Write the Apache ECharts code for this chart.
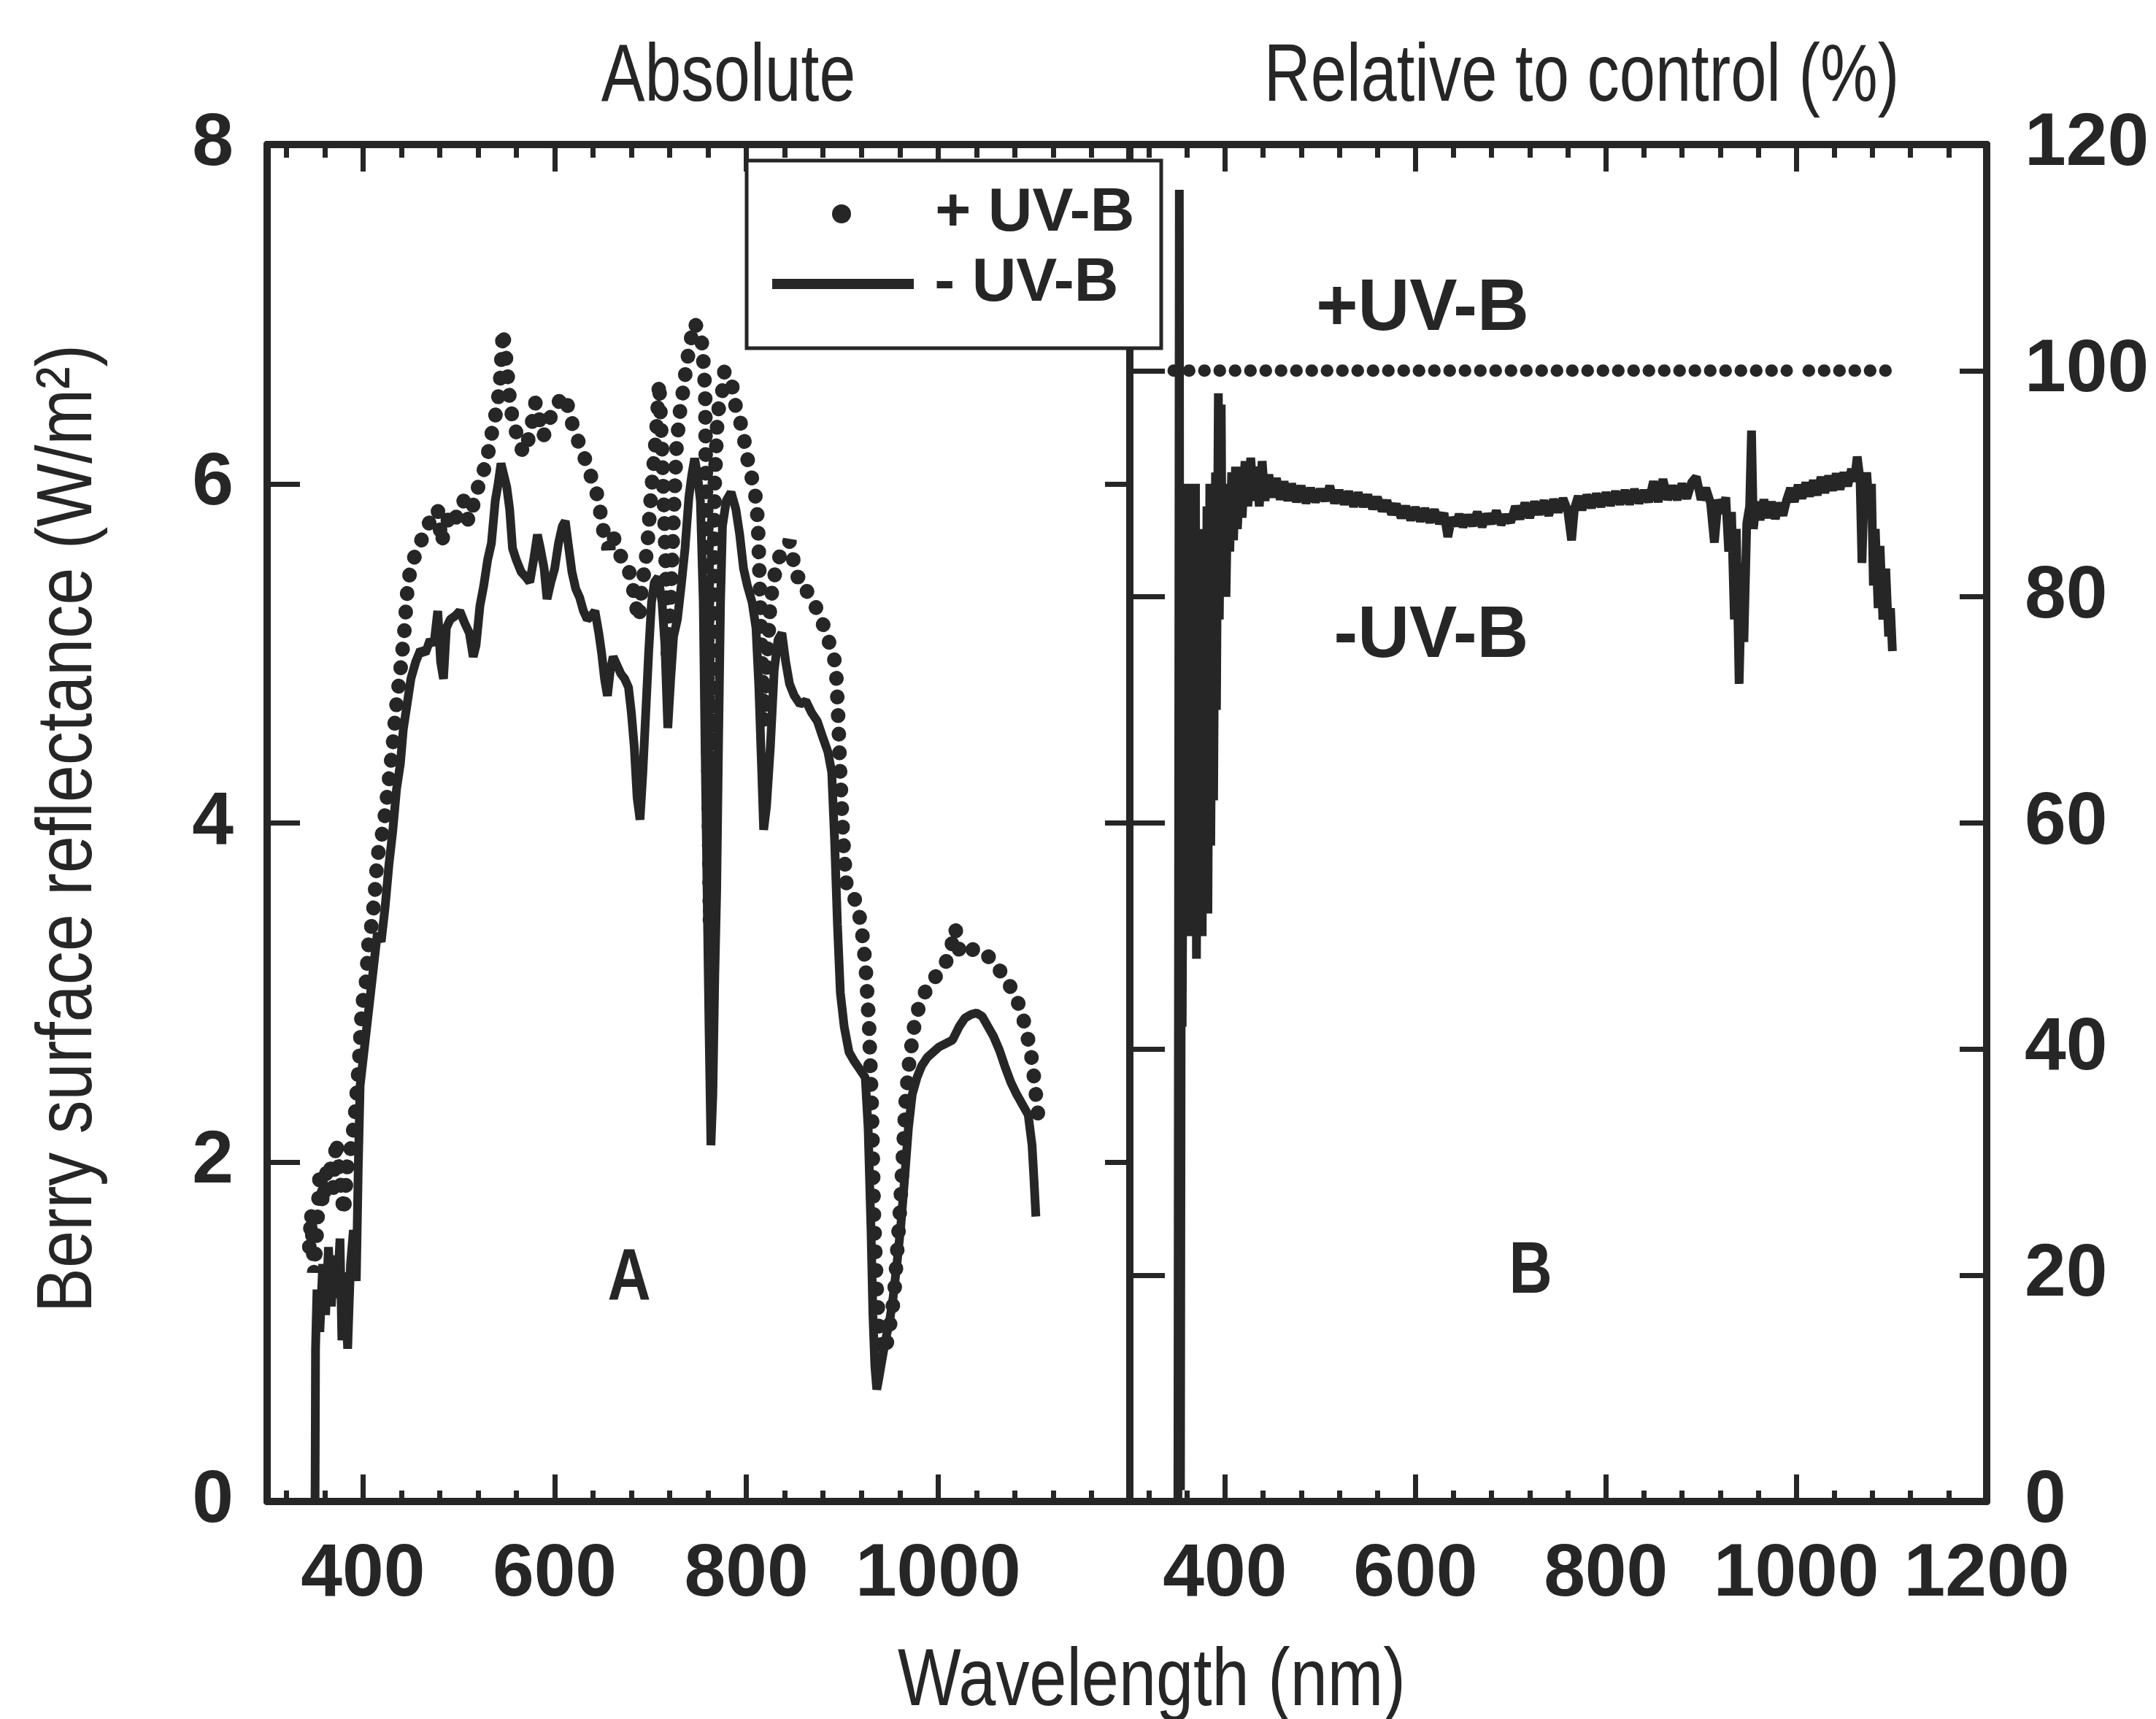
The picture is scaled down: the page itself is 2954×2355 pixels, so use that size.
<!DOCTYPE html>
<html lang="en">
<head>
<meta charset="UTF-8">
<title>Berry surface reflectance</title>
<script src="https://cdn.jsdelivr.net/npm/echarts@6.0.0/dist/echarts.min.js"></script>
<style>
  html, body { margin: 0; padding: 0; background: #fff; }
  #chart { width: 2954px; height: 2355px; }
</style>
</head>
<body>
<div id="chart"></div>
<script>
  // tick positions (nm) shared by both panels
  const xMajorLeft = [400, 600, 800, 1000];
  const xMajorRight = [400, 600, 800, 1000, 1200];
  const xMinor = [320, 360, 440, 480, 520, 560, 640, 680, 720, 760, 840, 880, 920, 960, 1040, 1080, 1120, 1160];

  // A: absolute reflectance (W/m2), -UV-B solid line
  const minusAbs = [
    [350,0],[350.5,0.9],[352,1.25],[355,1.0],[358,1.4],[361,1.1],[364,1.5],[367,1.15],[370,1.45],[373,1.2],
    [376,1.55],[378,0.95],[381,1.35],[384,0.9],[387,1.4],[390,1.6],[393,1.3],[395,1.95],[397,2.45],[400,2.6],
    [403,2.75],[407,2.95],[411,3.15],[415,3.35],[419,3.3],[423,3.5],[427,3.75],[431,3.95],[435,4.2],[439,4.35],
    [442,4.55],[446,4.7],[450,4.85],[455,4.95],[460,5.02],[465,5.0],[470,5.08],[474,5.05],[478,5.25],[481,4.95],
    [484,4.85],[487,5.15],[491,5.2],[496,5.22],[501,5.25],[506,5.18],[511,5.12],[515,4.98],[518,5.05],[522,5.28],
    [526,5.4],[530,5.55],[534,5.65],[538,5.9],[541,6.0],[544,6.12],[547,6.05],[550,5.98],[553,5.85],[556,5.62],
    [560,5.55],[565,5.48],[570,5.45],[574,5.42],[578,5.55],[582,5.7],[585,5.62],[589,5.5],[592,5.32],[596,5.42],
    [600,5.5],[604,5.65],[608,5.75],[611,5.78],[614,5.65],[618,5.48],[622,5.38],[626,5.33],[630,5.25],[634,5.2],
    [638,5.22],[642,5.25],[646,5.12],[649,5.0],[652,4.85],[655,4.75],[658,4.9],[661,4.98],[665,4.93],[669,4.88],
    [673,4.85],[677,4.8],[680,4.65],[683,4.45],[686,4.15],[689,4.02],[692,4.3],[695,4.65],[698,5.0],[701,5.3],
    [704,5.42],[708,5.45],[712,5.3],[715,5.05],[718,4.56],[721,4.85],[724,5.1],[728,5.2],[732,5.4],[736,5.62],
    [740,5.92],[743,6.05],[746,6.15],[749,6.05],[752,5.9],[755,5.3],[757,4.4],[759,3.6],[761,2.8],[763,2.1],
    [765,2.4],[767,3.1],[769,3.6],[771,4.5],[773,5.3],[775,5.75],[779,5.9],[784,5.95],[789,5.85],[793,5.7],
    [797,5.5],[801,5.4],[806,5.3],[810,5.15],[813,4.8],[816,4.3],[818,3.96],[821,4.1],[825,4.45],[829,4.9],
    [833,5.08],[837,5.12],[841,4.95],[845,4.82],[850,4.75],[856,4.7],[862,4.72],[868,4.65],[874,4.6],[880,4.5],
    [885,4.42],[889,4.3],[892,3.9],[895,3.4],[898,3.0],[902,2.8],[907,2.65],[912,2.6],[918,2.55],[924,2.5],
    [927,2.2],[930,1.6],[932,1.1],[934,0.8],[936,0.66],[938,0.72],[941,0.82],[945,0.95],[949,1.05],[953,1.2],
    [957,1.4],[961,1.62],[965,1.9],[969,2.2],[973,2.4],[978,2.5],[983,2.57],[989,2.62],[995,2.65],[1001,2.68],
    [1008,2.7],[1015,2.72],[1022,2.8],[1028,2.85],[1034,2.87],[1040,2.88],[1046,2.86],[1052,2.8],[1058,2.74],[1064,2.66],
    [1070,2.56],[1076,2.47],[1082,2.4],[1088,2.34],[1094,2.28],[1098,2.1],[1100,1.9],[1102,1.68]
  ];

  // A: absolute reflectance, +UV-B dotted
  const plusAbs = [
    [344,1.5],[346,1.7],[349,1.35],[352,1.6],[355,1.95],[358,1.75],[362,1.95],[365,2.0],[369,1.85],[372,2.13],
    [376,1.9],[380,1.7],[384,2.0],[388,2.1],[392,2.3],[396,2.6],[399,2.92],[403,3.05],[406,3.3],[409,3.4],
    [412,3.55],[415,3.8],[419,3.9],[423,4.05],[427,4.25],[431,4.45],[434,4.65],[437,4.8],[440,4.95],[443,5.12],
    [446,5.35],[449,5.48],[453,5.56],[458,5.62],[463,5.7],[468,5.76],[473,5.8],[478,5.85],[482,5.65],[486,5.75],
    [491,5.82],[496,5.78],[500,5.86],[505,5.9],[510,5.78],[514,5.85],[518,5.95],[523,6.02],[528,6.12],[532,6.22],
    [536,6.35],[540,6.45],[543,6.6],[546,6.9],[550,6.7],[553,6.5],[556,6.38],[560,6.3],[564,6.22],[568,6.18],
    [572,6.25],[576,6.35],[580,6.48],[584,6.38],[588,6.28],[592,6.32],[596,6.4],[600,6.42],[604,6.48],[608,6.52],
    [612,6.5],[616,6.4],[620,6.32],[624,6.26],[628,6.2],[632,6.14],[636,6.08],[640,6.0],[644,5.94],[648,5.82],
    [652,5.68],[656,5.62],[660,5.7],[664,5.65],[668,5.58],[672,5.55],[676,5.5],[680,5.45],[684,5.3],[688,5.2],
    [691,5.4],[694,5.5],[697,5.65],[700,5.9],[703,6.1],[706,6.3],[709,6.6],[712,6.2],[715,5.7],[718,5.0],
    [721,5.3],[724,5.8],[727,6.2],[730,6.4],[734,6.55],[738,6.72],[742,6.85],[746,6.95],[750,6.9],[754,6.82],
    [757,6.55],[760,4.5],[762,3.4],[764,4.2],[767,6.0],[770,6.42],[774,6.5],[777,6.66],[781,6.65],[785,6.58],
    [789,6.45],[793,6.38],[797,6.28],[801,6.15],[805,6.05],[809,5.95],[812,5.78],[815,5.2],[818,4.6],[821,4.9],
    [825,5.3],[829,5.45],[833,5.55],[837,5.6],[841,5.62],[845,5.66],[849,5.55],[853,5.45],[857,5.45],[862,5.38],
    [867,5.32],[872,5.28],[877,5.2],[882,5.15],[887,5.05],[891,5.0],[894,4.85],[896,4.6],[898,4.27],[901,3.9],
    [904,3.65],[908,3.6],[913,3.55],[918,3.45],[922,3.3],[925,3.1],[928,2.8],[931,2.3],[933,1.7],[936,1.25],
    [939,0.97],[942,0.88],[946,0.92],[950,1.05],[954,1.2],[957,1.45],[960,1.7],[963,2.0],[966,2.35],[970,2.6],
    [975,2.8],[980,2.92],[986,3.0],[992,3.05],[998,3.1],[1004,3.14],[1010,3.2],[1015,3.3],[1018,3.38],[1022,3.25],
    [1027,3.22],[1032,3.24],[1038,3.26],[1044,3.25],[1050,3.22],[1056,3.2],[1062,3.15],[1068,3.1],[1074,3.05],[1080,2.98],
    [1085,2.92],[1090,2.82],[1094,2.72],[1098,2.6],[1101,2.45],[1103,2.35],[1105,2.24]
  ];

  // B: relative to control (%), +UV-B is the reference itself
  const plusRel = [[346,100],[990,100],[1001,null],[1013,100],[1102,100]];

  // B: relative to control (%), -UV-B
  const minusRel = [
    [350.5,0],[352,116],[353.2,1],[354.2,60],[355,42],[356,62],[356.5,58],[357,88],[358,50],[359,85],[360,52],[361,90],
    [362,55],[364,88],[365,50],[366,86],[367,54],[369,90],[370,48],[372,84],[373,56],[375,86],
    [376,50],[378,85],[379,55],[381,88],[382,52],[384,90],[385,58],[387,85],[388,62],[390,91],
    [391,70],[393,98],[394,78],[396,97],[397,82],[399,90],[401,80],[403,90],[405,84],[407,91],
    [409,85],[411,91.5],[413,86],[416,91.5],[418,87],[421,92],[424,88],[427,92.3],[430,88.5],[433,91.5],
    [436,88],[439,92],[442,88.5],[446,90.8],[450,88.8],[454,90.5],[458,88.6],[462,90.2],[466,88.5],[470,90],
    [475,88.4],[480,89.8],[485,88.3],[490,89.6],[495,88.4],[500,89.5],[505,88.5],[510,89.8],[515,88.3],[520,89.4],
    [525,88.2],[530,89.3],[535,88.0],[540,89.2],[545,88.0],[550,89.0],[555,87.8],[560,88.8],[565,87.6],[570,88.5],
    [575,87.3],[580,88.2],[585,87.0],[590,88.0],[595,86.8],[600,87.9],[605,86.7],[610,87.8],[615,86.6],[620,87.7],
    [625,86.5],[630,87.4],[634,85.3],[638,87.0],[642,86.3],[646,87.3],[650,86.2],[655,87.2],[660,86.3],[665,87.5],
    [670,86.2],[675,87.3],[680,86.5],[685,87.6],[690,86.4],[695,87.2],[700,86.6],[705,88.0],[710,86.9],[715,88.3],
    [720,87.0],[725,88.4],[730,87.3],[735,88.5],[740,87.2],[745,88.6],[750,87.5],[755,88.7],[760,87.6],[764,85.0],
    [767,87.8],[771,88.9],[775,87.7],[780,89.0],[785,87.9],[790,89.1],[795,88.0],[800,89.2],[805,88.1],[810,89.3],
    [815,88.2],[820,89.4],[825,88.2],[830,89.5],[835,88.3],[840,89.4],[845,88.4],[850,90.2],[855,88.4],[860,90.4],
    [865,88.6],[870,89.8],[875,88.6],[880,90.0],[885,88.7],[890,90.1],[895,90.6],[900,88.6],[905,89.6],[910,88.3],
    [914,84.8],[918,88.6],[922,87.4],[926,88.8],[929,84.0],[932,87.5],[935,78.0],[937,86.0],[940,72.3],[943,83.0],
    [945,76.0],[948,86.5],[951,88.0],[953,94.7],[955,86.0],[958,88.4],[962,86.8],[966,88.6],[970,87.0],[974,88.4],
    [978,86.9],[982,88.3],[986,87.2],[990,88.6],[994,89.6],[998,88.4],[1002,89.9],[1006,88.7],[1010,90.1],[1014,88.9],
    [1018,90.3],[1022,89.0],[1026,90.6],[1030,89.2],[1034,90.7],[1038,89.4],[1042,90.9],[1046,89.5],[1050,91.0],[1054,89.8],
    [1058,91.3],[1061,90.2],[1064,92.4],[1067,90.4],[1069,83.0],[1071,88.5],[1074,91.0],[1077,87.5],[1079,90.0],[1081,81.0],
    [1083,86.0],[1086,79.0],[1088,84.5],[1091,78.0],[1094,82.5],[1097,76.5],[1099,79.0],[1101,75.2]
  ];

  const ink = '#262626';
  const sans = '"Liberation Sans", Arial, sans-serif';

  // one value axis carrying only ticks (labels optional)
  function xAx(grid, pos, ticks, len, labels) {
    return {
      type: 'value', gridIndex: grid, position: pos, min: 300, max: 1200,
      axisLine: { show: true, onZero: false, lineStyle: { color: ink, width: 10 } },
      axisTick: { show: true, inside: true, length: len, customValues: ticks, lineStyle: { color: ink, width: 7 } },
      axisLabel: labels ? {
        show: true, customValues: labels, margin: 50, formatter: v => String(v),
        fontSize: 102, fontWeight: 'bold', fontFamily: sans, color: ink
      } : { show: false },
      splitLine: { show: false }
    };
  }

  function yAx(grid, pos, max, step, len, label) {
    return {
      type: 'value', gridIndex: grid, position: pos, min: 0, max: max, interval: step,
      axisLine: { show: true, onZero: false, lineStyle: { color: ink, width: 10 } },
      axisTick: { show: true, inside: true, length: len, lineStyle: { color: ink, width: 7 } },
      axisLabel: label ? {
        show: true, margin: label, formatter: v => String(v),
        fontSize: 102, fontWeight: 'bold', fontFamily: sans, color: ink
      } : { show: false },
      splitLine: { show: false }
    };
  }

  // condensed-looking text: Liberation Sans squeezed horizontally
  function label(text, x, y, font, sx, rot) {
    return {
      type: 'text', x: x, y: y, scaleX: sx, rotation: rot || 0, z: 5,
      style: { text: text, font: font, fill: ink, align: 'center', verticalAlign: 'middle' }
    };
  }

  // dot centred in a 200x26 legend slot (the two lone moveTo points fix the box)
  const dotIcon = 'path://M0,0M200,26M87,13a13,13 0 1,0 26,0a13,13 0 1,0 -26,0Z';

  const chart = echarts.init(document.getElementById('chart'));

  const option = {
    backgroundColor: '#fff',
    animation: false,
    grid: [
      { left: 366, top: 198, width: 1182, height: 1859, containLabel: false },
      { left: 1548, top: 198, width: 1174, height: 1859, containLabel: false }
    ],
    xAxis: [
      xAx(0, 'bottom', xMajorLeft, 37, xMajorLeft),
      xAx(0, 'bottom', xMinor, 15),
      xAx(0, 'top', xMajorLeft, 37),
      xAx(0, 'top', xMinor, 18),
      xAx(1, 'bottom', xMajorRight, 37, xMajorRight),
      xAx(1, 'bottom', xMinor, 15),
      xAx(1, 'top', xMajorRight, 37),
      xAx(1, 'top', xMinor, 18)
    ],
    yAxis: [
      yAx(0, 'left', 8, 2, 45, 46),
      yAx(0, 'right', 8, 2, 34),
      yAx(1, 'left', 120, 20, 48),
      yAx(1, 'right', 120, 20, 37, 52)
    ],
    legend: [
      {
        selectedMode: false, left: 1053, top: 251, z: 20, padding: 0,
        itemWidth: 200, itemHeight: 26,
        data: [{ name: '+ UV-B', icon: dotIcon }],
        itemStyle: { color: ink, borderWidth: 0 },
        formatter: n => ' ' + n,
        textStyle: { fontSize: 84, fontWeight: 'bold', fontFamily: sans, color: ink }
      },
      {
        selectedMode: false, left: 1058, top: 347, z: 20, padding: 0,
        itemWidth: 194, itemHeight: 14,
        data: [{ name: '- UV-B', icon: 'rect' }],
        itemStyle: { color: ink, borderWidth: 0 },
        formatter: n => ' ' + n,
        textStyle: { fontSize: 84, fontWeight: 'bold', fontFamily: sans, color: ink }
      }
    ],
    graphic: [
      { type: 'rect', z: 10, shape: { x: 1023, y: 220, width: 568, height: 257 },
        style: { fill: '#fff', stroke: ink, lineWidth: 5 } },
      label('Absolute', 998, 107, '112px ' + sans, 0.8),
      label('Relative to control (%)', 2167, 107, '112px ' + sans, 0.79),
      label('Wavelength (nm)', 1578, 2305, '112px ' + sans, 0.82),
      label('Berry surface reflectance (W/m\u00b2)', 95, 1135, '108px ' + sans, 0.85, Math.PI / 2),
      label('+UV-B', 1949, 424, 'bold 100px ' + sans, 0.98),
      label('-UV-B', 1961, 872, 'bold 100px ' + sans, 0.98),
      label('A', 862, 1753, 'bold 100px ' + sans, 0.82),
      label('B', 2097, 1743, 'bold 100px ' + sans, 0.82)
    ],
    series: [
      {
        name: '+ UV-B', type: 'line', xAxisIndex: 0, yAxisIndex: 0, data: plusAbs,
        symbol: 'none', itemStyle: { color: ink },
        lineStyle: { color: ink, width: 20, type: [0.5, 25], cap: 'round' }
      },
      {
        name: '- UV-B', type: 'line', xAxisIndex: 0, yAxisIndex: 0, data: minusAbs,
        symbol: 'none', itemStyle: { color: ink },
        lineStyle: { color: ink, width: 12 }
      },
      {
        name: '+ UV-B', type: 'line', xAxisIndex: 4, yAxisIndex: 2, data: plusRel,
        symbol: 'none', itemStyle: { color: ink },
        lineStyle: { color: ink, width: 17, type: [0.5, 20.5], cap: 'round' }
      },
      {
        name: '- UV-B', type: 'line', xAxisIndex: 4, yAxisIndex: 2, data: minusRel,
        symbol: 'none', itemStyle: { color: ink },
        lineStyle: { color: ink, width: 12 }
      }
    ]
  };

  chart.setOption(option);
</script>
</body>
</html>
